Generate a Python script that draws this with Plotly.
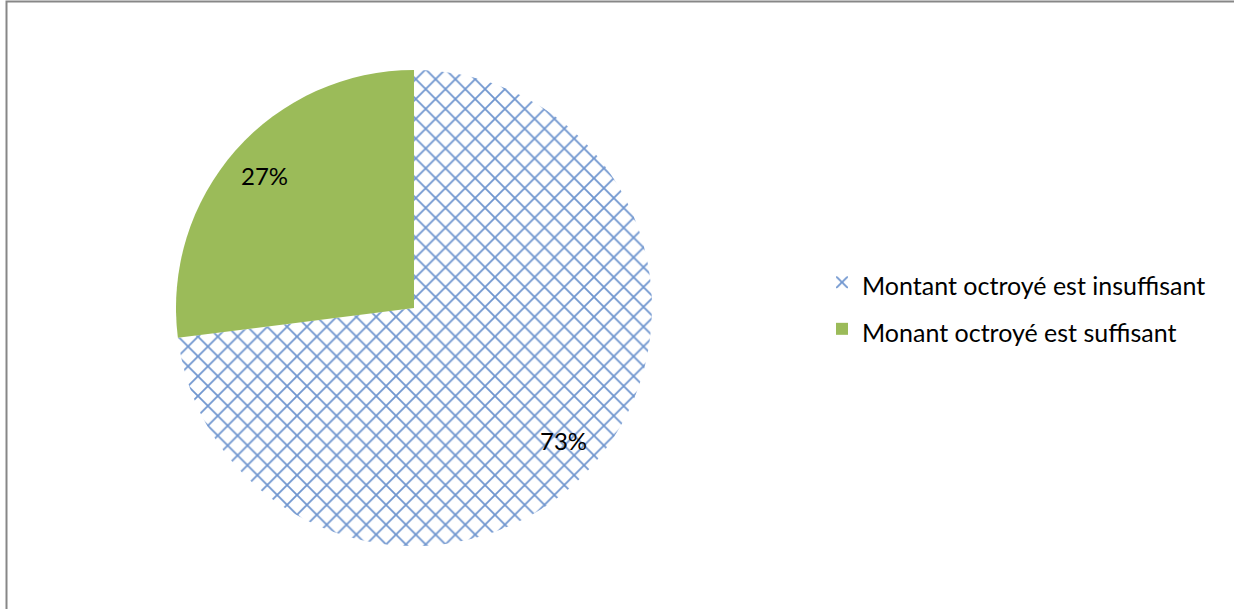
import math
import plotly.graph_objects as go

# Répartition des réponses sur le montant octroyé
labels = ["Montant octroyé est insuffisant", "Monant octroyé est suffisant"]
values = [73, 27]
colors = ["#ffffff", "#9bbb59"]
hatch = ["x", ""]

W, H = 1234, 609
CX, CY, R = 414, 308, 238  # pie centre and radius, px

fig = go.Figure(
    go.Pie(
        labels=[f'<span style="font-size:25px">{l}</span>' for l in labels],
        values=values,
        sort=False,
        direction="clockwise",
        rotation=0,
        marker=dict(
            colors=colors,
            line=dict(width=0),
            pattern=dict(shape=hatch, fgcolor="#7096cf", bgcolor="#ffffff",
                         size=14, solidity=0.24),
        ),
        textinfo="none",
        domain=dict(x=[(CX - R) / W, (CX + R) / W], y=[1 - (CY + R) / H, 1 - (CY - R) / H]),
        hoverinfo="label+percent",
    )
)

# percentage labels placed at each slice's mid-angle
total = sum(values)
cum = 0.0
for v in values:
    mid = (cum + v / 2) / total * 2 * math.pi
    cum += v
    px = CX + 0.84 * R * math.sin(mid)
    py = CY - 0.84 * R * math.cos(mid)
    fig.add_annotation(x=px / W, y=1 - py / H, xref="paper", yref="paper",
                       xanchor="center", yanchor="middle",
                       text=f"{round(100 * v / total)}%", showarrow=False,
                       font=dict(family="Lato", size=24, color="#000000"))

# chart frame
fig.add_shape(type="rect", xref="paper", yref="paper",
              x0=6.5 / W, x1=1.02, y0=-0.02, y1=1 - 1.5 / H,
              line=dict(color="#878787", width=2), fillcolor="rgba(0,0,0,0)")

fig.update_layout(
    width=W, height=H,
    margin=dict(l=0, r=0, t=0, b=0),
    paper_bgcolor="#ffffff",
    font=dict(family="Lato", color="#000000"),
    showlegend=True,
    legend=dict(x=822 / W, xanchor="left", y=1 - 306 / H, yanchor="middle",
                font=dict(family="Lato", size=33.5, color="#000000"),
                bgcolor="rgba(0,0,0,0)"),
)

fig.write_html("out.html")
